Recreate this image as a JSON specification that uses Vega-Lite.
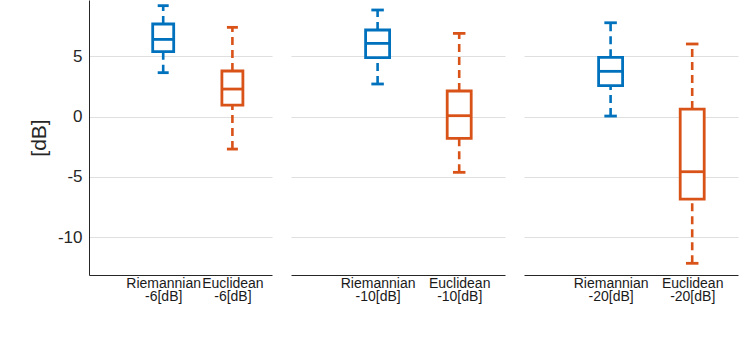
{
  "$schema": "https://vega.github.io/schema/vega-lite/v6.json",
  "padding": {"left": 28, "top": 0, "right": 8, "bottom": 5},
  "spacing": 19,
  "config": {
    "font": "Liberation Sans",
    "view": {"stroke": null},
    "axis": {"gridColor": "#dfdfdf", "domainColor": "#262626", "labelColor": "#262626", "titleColor": "#262626", "ticks": false}
  },
  "datasets": {
    "stats": [
      {"panel": "-6", "method": "Riemannian", "pos": 1, "lo": 3.64, "q1": 5.38, "med": 6.4, "q3": 7.68, "hi": 9.2},
      {"panel": "-6", "method": "Euclidean", "pos": 2, "lo": -2.7, "q1": 0.95, "med": 2.28, "q3": 3.78, "hi": 7.4},
      {"panel": "-10", "method": "Riemannian", "pos": 1, "lo": 2.7, "q1": 4.88, "med": 6.07, "q3": 7.18, "hi": 8.84},
      {"panel": "-10", "method": "Euclidean", "pos": 2, "lo": -4.63, "q1": -1.81, "med": 0.07, "q3": 2.12, "hi": 6.9},
      {"panel": "-20", "method": "Riemannian", "pos": 1, "lo": 0.04, "q1": 2.56, "med": 3.75, "q3": 4.91, "hi": 7.78},
      {"panel": "-20", "method": "Euclidean", "pos": 2, "lo": -12.18, "q1": -6.85, "med": -4.58, "q3": 0.62, "hi": 6.02}
    ]
  },
  "hconcat": [
    {
      "width": 183, "height": 275,
      "data": {"name": "stats"},
      "transform": [{"filter": "datum.panel == '-6'"}],
      "encoding": {
        "x": {"field": "pos", "type": "quantitative", "scale": {"domain": [0, 2.5], "nice": false, "zero": false},
          "axis": {"values": [1, 2], "grid": false, "title": null, "labelFontSize": 14, "labelPadding": 1, "labelLineHeight": 13.5, "labelColor": "#1a1a1a",
            "labelExpr": "datum.value == 1 ? ['Riemannian', '-6[dB]'] : ['Euclidean', '-6[dB]']"}},
        "color": {"field": "method", "type": "nominal", "scale": {"domain": ["Riemannian", "Euclidean"], "range": ["#0072BD", "#D95319"]}, "legend": null}
      },
      "layer": [
        {"mark": {"type": "rule", "strokeWidth": 2.6, "strokeDash": [8, 5]}, "encoding": {"y": {"field": "lo", "type": "quantitative", "scale": {"domain": [-13.15, 9.67], "nice": false, "zero": false},
          "axis": {"values": [-10, -5, 0, 5], "grid": true, "title": "[dB]", "titleFontSize": 21, "titleFontWeight": "normal", "titlePadding": 8, "labelFontSize": 17, "labelPadding": 7, "labelExpr": "'' + datum.value"}}, "y2": {"field": "q1"}}},
        {"mark": {"type": "rule", "strokeWidth": 2.6, "strokeDash": [8, 5]}, "encoding": {"y": {"field": "q3", "type": "quantitative"}, "y2": {"field": "hi"}}},
        {"mark": {"type": "tick", "orient": "horizontal", "size": 11, "thickness": 2.8, "opacity": 1}, "encoding": {"y": {"field": "lo", "type": "quantitative"}}},
        {"mark": {"type": "tick", "orient": "horizontal", "size": 11, "thickness": 2.8, "opacity": 1}, "encoding": {"y": {"field": "hi", "type": "quantitative"}}},
        {"mark": {"type": "bar", "orient": "vertical", "size": 21, "fill": "white", "strokeWidth": 2.8}, "encoding": {"y": {"field": "q1", "type": "quantitative"}, "y2": {"field": "q3"}, "stroke": {"field": "method", "type": "nominal", "scale": {"domain": ["Riemannian", "Euclidean"], "range": ["#0072BD", "#D95319"]}, "legend": null}}},
        {"mark": {"type": "tick", "orient": "horizontal", "size": 21, "thickness": 2.8, "opacity": 1}, "encoding": {"y": {"field": "med", "type": "quantitative"}}}
      ]
    },
    {
      "width": 214, "height": 275,
      "data": {"name": "stats"},
      "transform": [{"filter": "datum.panel == '-10'"}],
      "encoding": {
        "x": {"field": "pos", "type": "quantitative", "scale": {"domain": [0, 2.5], "nice": false, "zero": false},
          "axis": {"values": [1, 2], "grid": false, "title": null, "labelFontSize": 14, "labelPadding": 1, "labelLineHeight": 13.5, "labelColor": "#1a1a1a",
            "labelExpr": "datum.value == 1 ? ['Riemannian', '-10[dB]'] : ['Euclidean', '-10[dB]']"}},
        "color": {"field": "method", "type": "nominal", "scale": {"domain": ["Riemannian", "Euclidean"], "range": ["#0072BD", "#D95319"]}, "legend": null}
      },
      "layer": [
        {"mark": {"type": "rule", "strokeWidth": 2.6, "strokeDash": [8, 5]}, "encoding": {"y": {"field": "lo", "type": "quantitative", "scale": {"domain": [-13.15, 9.67], "nice": false, "zero": false},
          "axis": {"values": [-10, -5, 0, 5], "grid": true, "title": null, "labels": false, "domain": false}}, "y2": {"field": "q1"}}},
        {"mark": {"type": "rule", "strokeWidth": 2.6, "strokeDash": [8, 5]}, "encoding": {"y": {"field": "q3", "type": "quantitative"}, "y2": {"field": "hi"}}},
        {"mark": {"type": "tick", "orient": "horizontal", "size": 12.5, "thickness": 2.8, "opacity": 1}, "encoding": {"y": {"field": "lo", "type": "quantitative"}}},
        {"mark": {"type": "tick", "orient": "horizontal", "size": 12.5, "thickness": 2.8, "opacity": 1}, "encoding": {"y": {"field": "hi", "type": "quantitative"}}},
        {"mark": {"type": "bar", "orient": "vertical", "size": 24, "fill": "white", "strokeWidth": 2.8}, "encoding": {"y": {"field": "q1", "type": "quantitative"}, "y2": {"field": "q3"}, "stroke": {"field": "method", "type": "nominal", "scale": {"domain": ["Riemannian", "Euclidean"], "range": ["#0072BD", "#D95319"]}, "legend": null}}},
        {"mark": {"type": "tick", "orient": "horizontal", "size": 24, "thickness": 2.8, "opacity": 1}, "encoding": {"y": {"field": "med", "type": "quantitative"}}}
      ]
    },
    {
      "width": 214, "height": 275,
      "data": {"name": "stats"},
      "transform": [{"filter": "datum.panel == '-20'"}],
      "encoding": {
        "x": {"field": "pos", "type": "quantitative", "scale": {"domain": [0, 2.5], "nice": false, "zero": false},
          "axis": {"values": [1, 2], "grid": false, "title": null, "labelFontSize": 14, "labelPadding": 1, "labelLineHeight": 13.5, "labelColor": "#1a1a1a",
            "labelExpr": "datum.value == 1 ? ['Riemannian', '-20[dB]'] : ['Euclidean', '-20[dB]']"}},
        "color": {"field": "method", "type": "nominal", "scale": {"domain": ["Riemannian", "Euclidean"], "range": ["#0072BD", "#D95319"]}, "legend": null}
      },
      "layer": [
        {"mark": {"type": "rule", "strokeWidth": 2.6, "strokeDash": [8, 5]}, "encoding": {"y": {"field": "lo", "type": "quantitative", "scale": {"domain": [-13.15, 9.67], "nice": false, "zero": false},
          "axis": {"values": [-10, -5, 0, 5], "grid": true, "title": null, "labels": false, "domain": false}}, "y2": {"field": "q1"}}},
        {"mark": {"type": "rule", "strokeWidth": 2.6, "strokeDash": [8, 5]}, "encoding": {"y": {"field": "q3", "type": "quantitative"}, "y2": {"field": "hi"}}},
        {"mark": {"type": "tick", "orient": "horizontal", "size": 12.5, "thickness": 2.8, "opacity": 1}, "encoding": {"y": {"field": "lo", "type": "quantitative"}}},
        {"mark": {"type": "tick", "orient": "horizontal", "size": 12.5, "thickness": 2.8, "opacity": 1}, "encoding": {"y": {"field": "hi", "type": "quantitative"}}},
        {"mark": {"type": "bar", "orient": "vertical", "size": 24, "fill": "white", "strokeWidth": 2.8}, "encoding": {"y": {"field": "q1", "type": "quantitative"}, "y2": {"field": "q3"}, "stroke": {"field": "method", "type": "nominal", "scale": {"domain": ["Riemannian", "Euclidean"], "range": ["#0072BD", "#D95319"]}, "legend": null}}},
        {"mark": {"type": "tick", "orient": "horizontal", "size": 24, "thickness": 2.8, "opacity": 1}, "encoding": {"y": {"field": "med", "type": "quantitative"}}}
      ]
    }
  ]
}
